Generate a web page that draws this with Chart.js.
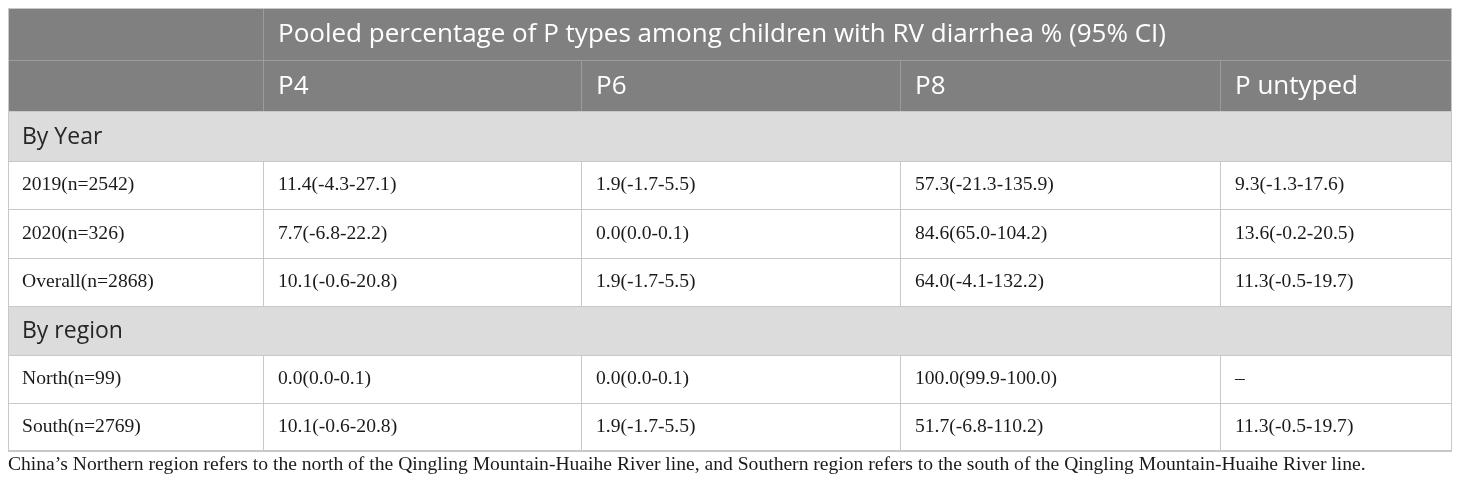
<!DOCTYPE html>
<html>
<head>
<meta charset="utf-8">
<title>Pooled percentage of P types</title>
<script src="https://cdn.jsdelivr.net/npm/chart.js@4.4.1/dist/chart.umd.min.js"></script>
<style>
  html,body{margin:0;padding:0;background:#fff}
  #wrap{width:1460px;height:489px;position:relative}
</style>
</head>
<body>
<div id="wrap"><canvas id="tbl"></canvas></div>
<script>
/* ── Table data ── */
var spanTitle = 'Pooled percentage of P types among children with RV diarrhea % (95% CI)';
var pTypes = ['P4', 'P6', 'P8', 'P untyped'];
var sections = ['By Year', 'By region'];
var yearRows = ['2019(n=2542)', '2020(n=326)', 'Overall(n=2868)'];
var regionRows = ['North(n=99)', 'South(n=2769)'];
var p4 = ['11.4(-4.3-27.1)', '7.7(-6.8-22.2)', '10.1(-0.6-20.8)', '0.0(0.0-0.1)', '10.1(-0.6-20.8)'];
var p6 = ['1.9(-1.7-5.5)', '0.0(0.0-0.1)', '1.9(-1.7-5.5)', '0.0(0.0-0.1)', '1.9(-1.7-5.5)'];
var p8 = ['57.3(-21.3-135.9)', '84.6(65.0-104.2)', '64.0(-4.1-132.2)', '100.0(99.9-100.0)', '51.7(-6.8-110.2)'];
var pUntyped = ['9.3(-1.3-17.6)', '13.6(-0.2-20.5)', '11.3(-0.5-19.7)', '–', '11.3(-0.5-19.7)'];
var footnote = 'China’s Northern region refers to the north of the Qingling Mountain-Huaihe River line, and Southern region refers to the south of the Qingling Mountain-Huaihe River line.';

/* ── Layout (table units = px) ── */
var colWidths = [255, 318, 319, 320, 232];
var rowHeights = [52, 51, 50, 48, 49, 48, 49, 48, 48];
var PAD = 15;

function edges(list){
  var out = [0];
  list.forEach(function(w){ out.push(out[out.length-1] + w); });
  return out;
}
var colEdge = edges(colWidths);
var rowEdge = edges(rowHeights);
var tableW = colEdge[colEdge.length-1];
var tableH = rowEdge[rowEdge.length-1];

// row kinds: span header, type header, section, data...
var rows = [{kind:'span'}, {kind:'types'}, {kind:'section', text:sections[0]}];
yearRows.forEach(function(l, i){ rows.push({kind:'data', label:l, idx:i}); });
rows.push({kind:'section', text:sections[1]});
regionRows.forEach(function(l, i){ rows.push({kind:'data', label:l, idx:yearRows.length + i}); });

function rowMid(r){ return (rowEdge[r] + rowEdge[r+1]) / 2; }

/* ── Text anchors as invisible scatter points ── */
var columns = [null, p4, p6, p8, pUntyped];
var textSets = [];

// header texts
var headPts = [{x: colEdge[1] + PAD, y: rowMid(0) + 1, t: spanTitle}];
pTypes.forEach(function(p, i){ headPts.push({x: colEdge[i+1] + PAD, y: rowMid(1) + 1, t: p}); });
textSets.push({label:'head', data:headPts, font:'26px "Open Sans"', color:'#ffffff'});

// section texts
var secPts = [];
rows.forEach(function(r, ri){
  if(r.kind === 'section') secPts.push({x: PAD - 1, y: rowMid(ri) + 1, t: r.text});
});
textSets.push({label:'section', data:secPts, font:'23px "Open Sans"', color:'#262626'});

// body cells
var cellPts = [];
rows.forEach(function(r, ri){
  if(r.kind !== 'data') return;
  cellPts.push({x: PAD - 1, y: rowMid(ri), t: r.label});
  for(var c = 1; c < columns.length; c++){
    cellPts.push({x: colEdge[c] + PAD, y: rowMid(ri), t: columns[c][r.idx]});
  }
});
textSets.push({label:'cells', data:cellPts, font:'19.6px "Liberation Serif"', color:'#1a1a1a'});

/* ── Plugin: grid, fills, text ── */
var tablePlugin = {
  id: 'tablePainter',
  beforeDatasetsDraw: function(chart){
    var ctx = chart.ctx, xs = chart.scales.x, ys = chart.scales.y;
    var X = function(v){ return xs.getPixelForValue(v); };
    var Y = function(v){ return ys.getPixelForValue(v); };
    ctx.save();
    // fills
    rows.forEach(function(r, ri){
      var fill = (r.kind === 'span' || r.kind === 'types') ? '#808080' : r.kind === 'section' ? '#dcdcdc' : '#ffffff';
      ctx.fillStyle = fill;
      ctx.fillRect(X(0), Y(rowEdge[ri]), X(tableW) - X(0), Y(rowEdge[ri+1]) - Y(rowEdge[ri]));
    });
    ctx.lineWidth = 1;
    // horizontal lines
    for(var i = 0; i <= rows.length; i++){
      var y = Math.round(Y(rowEdge[i])) + 0.5;
      ctx.strokeStyle = (i === 1) ? '#9c9c9c' : '#c8c8c8';
      ctx.beginPath(); ctx.moveTo(X(0), y); ctx.lineTo(X(tableW), y); ctx.stroke();
    }
    // vertical lines
    rows.forEach(function(r, ri){
      var y0 = Y(rowEdge[ri]), y1 = Y(rowEdge[ri+1]);
      var cuts;
      if(r.kind === 'span') cuts = [1];
      else if(r.kind === 'section') cuts = [];
      else cuts = [1, 2, 3, 4];
      ctx.strokeStyle = (r.kind === 'span' || r.kind === 'types') ? '#9c9c9c' : '#c8c8c8';
      cuts.forEach(function(c){
        var x = Math.round(X(colEdge[c])) + 0.5;
        ctx.beginPath(); ctx.moveTo(x, y0); ctx.lineTo(x, y1); ctx.stroke();
      });
    });
    // outer border
    ctx.strokeStyle = '#c8c8c8';
    ctx.strokeRect(Math.round(X(0)) + 0.5, Math.round(Y(0)) + 0.5,
                   Math.round(X(tableW) - X(0)) - 1, Math.round(Y(tableH) - Y(0)) - 1);
    ctx.restore();
  },
  afterDatasetsDraw: function(chart){
    var ctx = chart.ctx;
    ctx.save();
    ctx.textBaseline = 'middle';
    ctx.textAlign = 'left';
    chart.data.datasets.forEach(function(ds, di){
      var meta = chart.getDatasetMeta(di);
      ctx.font = ds.textFont;
      ctx.fillStyle = ds.textColor;
      meta.data.forEach(function(pt, i){
        ctx.fillText(ds.data[i].t, pt.x, pt.y);
      });
    });
    // footnote under the table
    var ys = chart.scales.y, xs = chart.scales.x;
    ctx.font = '19.6px "Liberation Serif"';
    ctx.fillStyle = '#1a1a1a';
    ctx.fillText(footnote, xs.getPixelForValue(0), ys.getPixelForValue(tableH) + 14);
    ctx.restore();
  }
};

new Chart(document.getElementById('tbl'), {
  type: 'scatter',
  data: {
    datasets: textSets.map(function(s){
      return {label:s.label, data:s.data, pointRadius:0, pointHoverRadius:0,
              textFont:s.font, textColor:s.color};
    })
  },
  options: {
    responsive: true,
    maintainAspectRatio: false,
    animation: false,
    events: [],
    layout: {padding: {left: 8, right: 8, top: 8, bottom: 489 - 8 - tableH}},
    plugins: {legend: {display: false}, tooltip: {enabled: false}},
    scales: {
      x: {type: 'linear', display: false, min: 0, max: tableW},
      y: {type: 'linear', display: false, min: 0, max: tableH, reverse: true}
    }
  },
  plugins: [tablePlugin]
});
</script>
</body>
</html>
